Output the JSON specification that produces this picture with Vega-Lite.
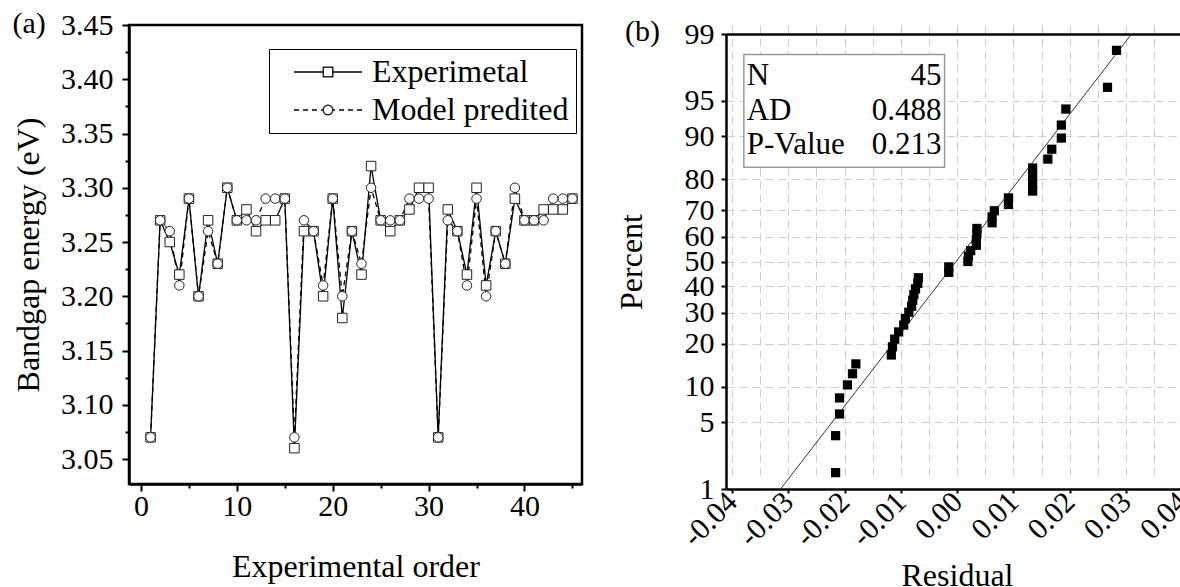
{
  "$schema": "https://vega.github.io/schema/vega-lite/v6.json",
  "background": "white",
  "padding": {"left": 11, "top": 7, "right": 0, "bottom": 0},
  "spacing": 31,
  "config": {
    "font": "Liberation Serif",
    "view": {"stroke": "black", "strokeWidth": 2.5},
    "axis": {
      "labelFont": "Liberation Serif",
      "titleFont": "Liberation Serif",
      "labelColor": "black",
      "titleColor": "black",
      "domainColor": "black",
      "tickColor": "black",
      "titleFontWeight": "normal",
      "labelFontSize": 30,
      "titleFontSize": 32,
      "domainWidth": 2.5,
      "tickWidth": 2,
      "labelFlush": false,
      "labelOverlap": false,
      "labelBound": false,
      "grid": false
    },
    "title": {
      "font": "Liberation Serif",
      "fontSize": 30,
      "fontWeight": "normal",
      "color": "black",
      "anchor": "start",
      "frame": "bounds",
      "orient": "top"
    }
  },
  "datasets": {
    "bandgap": [
      {"order": 1, "Experimetal": 3.07, "Model predited": 3.07},
      {"order": 2, "Experimetal": 3.27, "Model predited": 3.27},
      {"order": 3, "Experimetal": 3.25, "Model predited": 3.26},
      {"order": 4, "Experimetal": 3.22, "Model predited": 3.21},
      {"order": 5, "Experimetal": 3.29, "Model predited": 3.29},
      {"order": 6, "Experimetal": 3.20, "Model predited": 3.20},
      {"order": 7, "Experimetal": 3.27, "Model predited": 3.26},
      {"order": 8, "Experimetal": 3.23, "Model predited": 3.23},
      {"order": 9, "Experimetal": 3.30, "Model predited": 3.30},
      {"order": 10, "Experimetal": 3.27, "Model predited": 3.27},
      {"order": 11, "Experimetal": 3.28, "Model predited": 3.27},
      {"order": 12, "Experimetal": 3.26, "Model predited": 3.27},
      {"order": 13, "Experimetal": 3.27, "Model predited": 3.29},
      {"order": 14, "Experimetal": 3.27, "Model predited": 3.29},
      {"order": 15, "Experimetal": 3.29, "Model predited": 3.29},
      {"order": 16, "Experimetal": 3.06, "Model predited": 3.07},
      {"order": 17, "Experimetal": 3.26, "Model predited": 3.27},
      {"order": 18, "Experimetal": 3.26, "Model predited": 3.26},
      {"order": 19, "Experimetal": 3.20, "Model predited": 3.21},
      {"order": 20, "Experimetal": 3.29, "Model predited": 3.29},
      {"order": 21, "Experimetal": 3.18, "Model predited": 3.20},
      {"order": 22, "Experimetal": 3.26, "Model predited": 3.26},
      {"order": 23, "Experimetal": 3.22, "Model predited": 3.23},
      {"order": 24, "Experimetal": 3.32, "Model predited": 3.30},
      {"order": 25, "Experimetal": 3.27, "Model predited": 3.27},
      {"order": 26, "Experimetal": 3.26, "Model predited": 3.27},
      {"order": 27, "Experimetal": 3.27, "Model predited": 3.27},
      {"order": 28, "Experimetal": 3.28, "Model predited": 3.29},
      {"order": 29, "Experimetal": 3.30, "Model predited": 3.29},
      {"order": 30, "Experimetal": 3.30, "Model predited": 3.29},
      {"order": 31, "Experimetal": 3.07, "Model predited": 3.07},
      {"order": 32, "Experimetal": 3.28, "Model predited": 3.27},
      {"order": 33, "Experimetal": 3.26, "Model predited": 3.26},
      {"order": 34, "Experimetal": 3.22, "Model predited": 3.21},
      {"order": 35, "Experimetal": 3.30, "Model predited": 3.29},
      {"order": 36, "Experimetal": 3.21, "Model predited": 3.20},
      {"order": 37, "Experimetal": 3.26, "Model predited": 3.26},
      {"order": 38, "Experimetal": 3.23, "Model predited": 3.23},
      {"order": 39, "Experimetal": 3.29, "Model predited": 3.30},
      {"order": 40, "Experimetal": 3.27, "Model predited": 3.27},
      {"order": 41, "Experimetal": 3.27, "Model predited": 3.27},
      {"order": 42, "Experimetal": 3.28, "Model predited": 3.27},
      {"order": 43, "Experimetal": 3.28, "Model predited": 3.29},
      {"order": 44, "Experimetal": 3.28, "Model predited": 3.29},
      {"order": 45, "Experimetal": 3.29, "Model predited": 3.29}
    ],
    "residuals": [
      {"residual": -0.0216, "score": -2.159},
      {"residual": -0.0216, "score": -1.781},
      {"residual": -0.0209, "score": -1.559},
      {"residual": -0.0209, "score": -1.395},
      {"residual": -0.0195, "score": -1.262},
      {"residual": -0.0186, "score": -1.148},
      {"residual": -0.0180, "score": -1.047},
      {"residual": -0.0117, "score": -0.956},
      {"residual": -0.0115, "score": -0.872},
      {"residual": -0.0111, "score": -0.794},
      {"residual": -0.0104, "score": -0.720},
      {"residual": -0.0095, "score": -0.650},
      {"residual": -0.0092, "score": -0.583},
      {"residual": -0.0086, "score": -0.519},
      {"residual": -0.0081, "score": -0.457},
      {"residual": -0.0079, "score": -0.396},
      {"residual": -0.0077, "score": -0.338},
      {"residual": -0.0074, "score": -0.280},
      {"residual": -0.0070, "score": -0.223},
      {"residual": -0.0069, "score": -0.166},
      {"residual": -0.0015, "score": -0.111},
      {"residual": -0.0015, "score": -0.055},
      {"residual": 0.0019, "score": 0.0},
      {"residual": 0.0020, "score": 0.055},
      {"residual": 0.0024, "score": 0.111},
      {"residual": 0.0034, "score": 0.166},
      {"residual": 0.0034, "score": 0.223},
      {"residual": 0.0035, "score": 0.280},
      {"residual": 0.0035, "score": 0.338},
      {"residual": 0.0062, "score": 0.396},
      {"residual": 0.0062, "score": 0.457},
      {"residual": 0.0066, "score": 0.519},
      {"residual": 0.0091, "score": 0.583},
      {"residual": 0.0091, "score": 0.650},
      {"residual": 0.0134, "score": 0.720},
      {"residual": 0.0134, "score": 0.794},
      {"residual": 0.0134, "score": 0.872},
      {"residual": 0.0134, "score": 0.956},
      {"residual": 0.0161, "score": 1.047},
      {"residual": 0.0168, "score": 1.148},
      {"residual": 0.0185, "score": 1.262},
      {"residual": 0.0185, "score": 1.395},
      {"residual": 0.0193, "score": 1.559},
      {"residual": 0.0267, "score": 1.781},
      {"residual": 0.0283, "score": 2.159}
    ],
    "fit": [
      {"residual": -0.03137, "score": -2.3263},
      {"residual": 0.03097, "score": 2.3263}
    ],
    "stats": [
      {"stat": "N", "value": 45},
      {"stat": "AD", "value": 0.488},
      {"stat": "P-Value", "value": 0.213}
    ]
  },
  "hconcat": [
    {
      "width": 453,
      "height": 459,
      "title": {"text": "(a)", "offset": -29},
      "data": {"name": "bandgap"},
      "transform": [
        {"fold": ["Experimetal", "Model predited"], "as": ["series", "energy"]}
      ],
      "layer": [
        {
          "mark": {"type": "line", "color": "black", "strokeWidth": 1.3},
          "encoding": {
            "x": {
              "field": "order", "type": "quantitative",
              "scale": {"domain": [-1.25, 46], "nice": false, "zero": false},
              "axis": {"orient": "bottom", "values": [0, 10, 20, 30, 40], "title": "Experimental order", "tickSize": 7, "labelPadding": 0, "titlePadding": 30}
            },
            "y": {
              "field": "energy", "type": "quantitative",
              "scale": {"domain": [3.027, 3.45], "nice": false, "zero": false},
              "axis": {"orient": "left", "values": [3.05, 3.1, 3.15, 3.2, 3.25, 3.3, 3.35, 3.4, 3.45], "format": ".2f", "title": "Bandgap energy (eV)", "tickSize": 7, "labelPadding": 9, "titlePadding": 15}
            },
            "detail": {"field": "series"},
            "strokeDash": {
              "field": "series", "type": "nominal",
              "scale": {"domain": ["Experimetal", "Model predited"], "range": [[1, 0], [5, 4]]},
              "legend": {
                "title": null,
                "orient": "none",
                "legendX": 140,
                "legendY": 24,
                "padding": 7,
                "zindex": 0,
                "strokeColor": "black",
                "fillColor": "white",
                "labelFont": "Liberation Serif",
                "labelFontSize": 32,
                "labelColor": "black",
                "labelLimit": 400,
                "symbolType": "M-6.8,0H6.8",
                "symbolSize": 100,
                "symbolStrokeWidth": 1.3,
                "symbolStrokeColor": "black",
                "symbolOffset": 36,
                "labelOffset": 28,
                "rowPadding": 6
              }
            }
          }
        },
        {
          "mark": {"type": "point", "filled": true, "fill": "white", "stroke": "#222", "strokeWidth": 1, "size": 90, "opacity": 1},
          "encoding": {
            "x": {
              "field": "order", "type": "quantitative",
              "axis": {"orient": "bottom", "values": [5, 15, 25, 35, 45], "labels": false, "domain": false, "tickSize": 4, "title": null}
            },
            "y": {
              "field": "energy", "type": "quantitative",
              "axis": {"orient": "left", "values": [3.075, 3.125, 3.175, 3.225, 3.275, 3.325, 3.375, 3.425], "labels": false, "domain": false, "tickSize": 4, "title": null}
            },
            "shape": {
              "field": "series", "type": "nominal",
              "scale": {"domain": ["Experimetal", "Model predited"], "range": ["square", "circle"]},
              "legend": {
                "title": null,
                "orient": "none",
                "legendX": 140,
                "legendY": 24,
                "padding": 7,
                "zindex": 1,
                "strokeColor": null,
                "fillColor": null,
                "labelFont": "Liberation Serif",
                "labelFontSize": 32,
                "labelOpacity": 0,
                "labelLimit": 400,
                "symbolSize": 90,
                "symbolOffset": 36,
                "labelOffset": 28,
                "rowPadding": 6
              }
            }
          }
        }
      ],
      "resolve": {
        "axis": {"x": "independent", "y": "independent"},
        "legend": {"shape": "independent", "strokeDash": "independent"}
      }
    },
    {
      "width": 462,
      "height": 464,
      "title": {"text": "(b)", "offset": -28, "dx": 10},
      "view": {"stroke": null},
      "layer": [
        {
          "data": {"name": "fit"},
          "mark": {"type": "line", "color": "#333", "strokeWidth": 1},
          "encoding": {
            "x": {
              "field": "residual", "type": "quantitative",
              "scale": {"domain": [-0.04107, 0.041], "zero": false, "nice": false},
              "axis": {"orient": "bottom", "values": [-0.04, -0.035, -0.03, -0.025, -0.02, -0.015, -0.01, -0.005, 0, 0.005, 0.01, 0.015, 0.02, 0.025, 0.03, 0.035, 0.04], "grid": true, "gridDash": [8, 5], "gridColor": "#cfcfcf", "gridWidth": 1, "labels": false, "ticks": false, "domain": false, "title": null}
            },
            "y": {
              "field": "score", "type": "quantitative",
              "scale": {"domain": [-2.3263, 2.3263], "range": [464, 9], "zero": false, "nice": false},
              "axis": {
                "orient": "left",
                "values": [-2.3263, -1.6449, -1.2816, -0.8416, -0.5244, -0.2533, 0, 0.2533, 0.5244, 0.8416, 1.2816, 1.6449, 2.3263],
                "labelExpr": "round(cumulativeNormal(datum.value) * 100)",
                "grid": true, "gridDash": [8, 5], "gridColor": "#cfcfcf", "gridWidth": 1,
                "tickSize": 5, "labelPadding": 7, "title": "Percent", "titlePadding": 36
              }
            }
          }
        },
        {
          "data": {"name": "residuals"},
          "mark": {"type": "square", "color": "black", "size": 85, "opacity": 1},
          "encoding": {
            "x": {
              "field": "residual", "type": "quantitative",
              "axis": {
                "orient": "bottom",
                "values": [-0.04, -0.03, -0.02, -0.01, 0, 0.01, 0.02, 0.03, 0.04],
                "labelExpr": "replace(format(datum.value, '.2f'), '\u2212', '-')",
                "labelAngle": -45, "labelAlign": "right", "labelBaseline": "middle",
                "tickSize": 4, "labelPadding": 4, "title": "Residual", "titlePadding": 9
              }
            },
            "y": {"field": "score", "type": "quantitative", "axis": null}
          }
        },
        {
          "data": {"name": "stats"},
          "transform": [{"filter": "datum.stat === 'N'"}],
          "mark": {"type": "rect", "fill": "white", "stroke": "#9a9a9a", "strokeWidth": 1.5},
          "encoding": {
            "x": {"datum": -0.0379, "axis": null},
            "x2": {"datum": -0.00224},
            "y": {
              "datum": 2.1166,
              "axis": {"orient": "left", "values": [2.3263], "grid": true, "gridColor": "black", "gridWidth": 2.5, "gridDash": [], "labels": false, "ticks": false, "domain": false, "title": null}
            },
            "y2": {"datum": 0.9632}
          }
        },
        {
          "data": {"name": "stats"},
          "transform": [{"filter": "datum.stat === 'N'"}],
          "mark": {"type": "text", "align": "left", "baseline": "alphabetic", "fontSize": 31, "font": "Liberation Serif", "color": "black"},
          "encoding": {
            "x": {"datum": -0.0374, "axis": null},
            "y": {"datum": 1.8016, "axis": null},
            "text": {"field": "stat"}
          }
        },
        {
          "data": {"name": "stats"},
          "transform": [{"filter": "datum.stat === 'N'"}],
          "mark": {"type": "text", "align": "right", "baseline": "alphabetic", "fontSize": 31, "font": "Liberation Serif", "color": "black"},
          "encoding": {
            "x": {"datum": -0.0028, "axis": null},
            "y": {"datum": 1.8016, "axis": null},
            "text": {"field": "value", "type": "quantitative", "format": "d"}
          }
        },
        {
          "data": {"name": "stats"},
          "transform": [{"filter": "datum.stat === 'AD'"}],
          "mark": {"type": "text", "align": "left", "baseline": "alphabetic", "fontSize": 31, "font": "Liberation Serif", "color": "black"},
          "encoding": {
            "x": {"datum": -0.0374, "axis": null},
            "y": {"datum": 1.4438, "axis": null},
            "text": {"field": "stat"}
          }
        },
        {
          "data": {"name": "stats"},
          "transform": [{"filter": "datum.stat === 'AD'"}],
          "mark": {"type": "text", "align": "right", "baseline": "alphabetic", "fontSize": 31, "font": "Liberation Serif", "color": "black"},
          "encoding": {
            "x": {"datum": -0.0028, "axis": null},
            "y": {"datum": 1.4438, "axis": null},
            "text": {"field": "value", "type": "quantitative", "format": ".3f"}
          }
        },
        {
          "data": {"name": "stats"},
          "transform": [{"filter": "datum.stat === 'P-Value'"}],
          "mark": {"type": "text", "align": "left", "baseline": "alphabetic", "fontSize": 31, "font": "Liberation Serif", "color": "black"},
          "encoding": {
            "x": {"datum": -0.0374, "axis": null},
            "y": {"datum": 1.0961, "axis": null},
            "text": {"field": "stat"}
          }
        },
        {
          "data": {"name": "stats"},
          "transform": [{"filter": "datum.stat === 'P-Value'"}],
          "mark": {"type": "text", "align": "right", "baseline": "alphabetic", "fontSize": 31, "font": "Liberation Serif", "color": "black"},
          "encoding": {
            "x": {"datum": -0.0028, "axis": null},
            "y": {"datum": 1.0961, "axis": null},
            "text": {"field": "value", "type": "quantitative", "format": ".3f"}
          }
        }
      ],
      "resolve": {"axis": {"x": "independent", "y": "independent"}}
    }
  ]
}
